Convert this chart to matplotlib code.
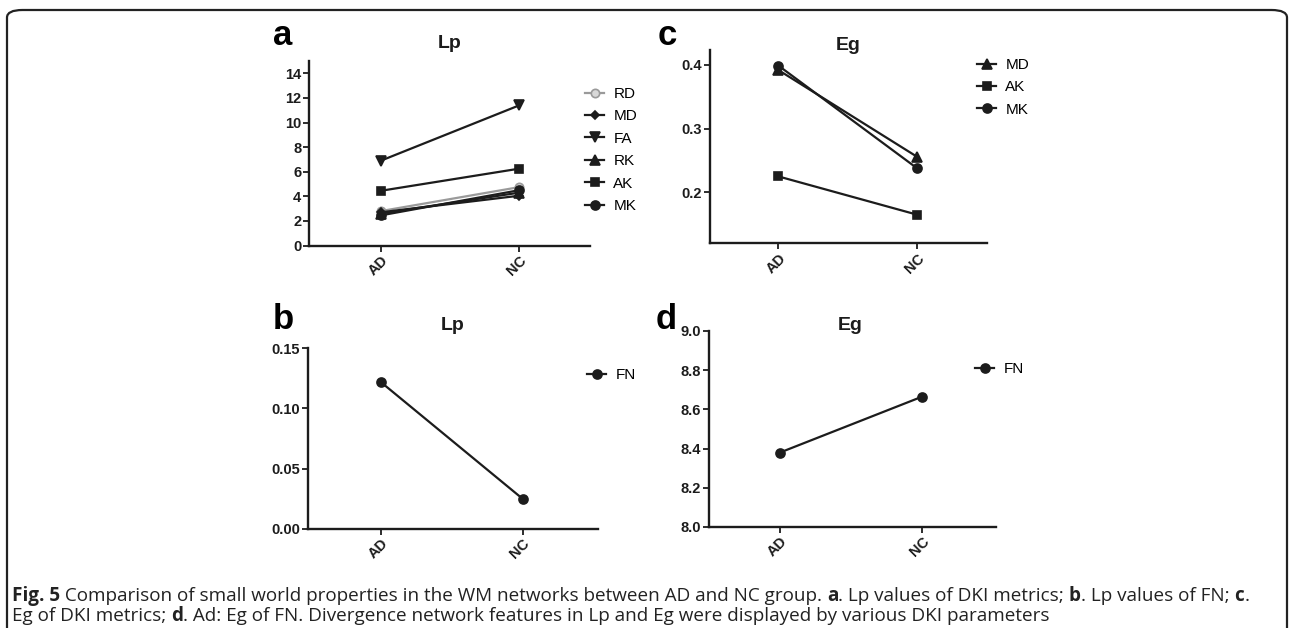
import matplotlib
matplotlib.use("Agg")
from matplotlib import pyplot as plt
from matplotlib.patches import FancyBboxPatch

plt.rcParams['font.family'] = ['Liberation Sans', 'DejaVu Sans']

W, H = 1292, 628
groups = ['AD', 'NC']

# panel a: Lp of DKI metrics
lp_dki_names = ['RD', 'MD', 'FA', 'RK', 'AK', 'MK']
lp_dki = {
    'RD': [2.8, 4.75],
    'MD': [2.7, 4.05],
    'FA': [6.9, 11.4],
    'RK': [2.6, 4.3],
    'AK': [4.45, 6.25],
    'MK': [2.45, 4.5],
}
# panel b: Lp of FN
lp_fn = [0.122, 0.025]
# panel c: Eg of DKI metrics
eg_dki_names = ['MD', 'AK', 'MK']
eg_dki = {
    'MD': [0.392, 0.256],
    'AK': [0.225, 0.165],
    'MK': [0.399, 0.238],
}
# panel d: Eg of FN
eg_fn = [8.38, 8.665]

ink = '#1c1c1c'

fig = plt.figure(figsize=(W / 100, H / 100), dpi=100)


def px_axes(x0, x1, ytop, ybot):
    return fig.add_axes([x0 / W, 1 - ybot / H, (x1 - x0) / W, (ybot - ytop) / H])


def style(ax, title, tx, ty, letter, lx, ly):
    for s in ['top', 'right']:
        ax.spines[s].set_visible(False)
    for s in ['left', 'bottom']:
        ax.spines[s].set_linewidth(1.7)
        ax.spines[s].set_color(ink)
    ax.tick_params(direction='out', length=4, width=1.3, color=ink, pad=1.5)
    ax.set_xticks([0, 1])
    ax.set_xticklabels(groups, rotation=45, ha='right', rotation_mode='anchor',
                       fontsize=10.5, fontweight='bold', color=ink)
    for lab in ax.get_yticklabels():
        lab.set_fontsize(10.5)
        lab.set_fontweight('bold')
        lab.set_color(ink)
    fig.text(tx / W, 1 - ty / H, title, fontsize=14, fontweight='bold',
             color=ink, ha='center', va='center')
    fig.text(lx / W, 1 - ly / H, letter, fontsize=25, fontweight='bold',
             ha='left', va='baseline', color='black')


def draw(ax, name, vals, marker, ms):
    gray = name == 'RD'
    col = '#9a9a9a' if gray else ink
    ax.plot([0, 1], vals, color=col, lw=1.6, marker=marker,
            ms=ms, mfc='#d8d8d8' if gray else col, mec=col,
            mew=1.2, label=name, clip_on=False)


def legend(ax, x, y, spacing):
    ax.legend(loc='upper left', bbox_to_anchor=(x / W, 1 - y / H),
              bbox_transform=fig.transFigure, frameon=False, fontsize=11,
              borderpad=0, borderaxespad=0, handlelength=1.25,
              handletextpad=0.6, labelspacing=spacing)


# a
a_markers = {'RD': ('o', 6), 'MD': ('D', 4.5), 'FA': ('v', 6.5),
             'RK': ('^', 6.5), 'AK': ('s', 6), 'MK': ('o', 6.5)}
ax = px_axes(309, 590, 61, 245.5)
for n in lp_dki_names:
    draw(ax, n, lp_dki[n], *a_markers[n])
ax.set_xlim(-0.52, 1.51)
ax.set_ylim(0, 15)
ax.set_yticks(range(0, 15, 2))
style(ax, 'Lp', 450, 43, 'a', 273, 45)
legend(ax, 585, 87, 0.55)

# c
c_markers = {'MD': ('^', 6.5), 'AK': ('s', 6), 'MK': ('o', 6.5)}
ax = px_axes(710, 987, 50, 243.3)
for n in eg_dki_names:
    draw(ax, n, eg_dki[n], *c_markers[n])
ax.set_xlim(-0.494, 1.506)
ax.set_ylim(0.12, 0.4235)
ax.set_yticks([0.2, 0.3, 0.4])
ax.set_yticklabels(['0.2', '0.3', '0.4'])
style(ax, 'Eg', 848, 46, 'c', 658, 45)
legend(ax, 977, 58, 0.55)

# b
ax = px_axes(308, 598, 348, 529)
draw(ax, 'FN', lp_fn, 'o', 6.5)
ax.set_xlim(-0.51, 1.53)
ax.set_ylim(0, 0.15)
ax.set_yticks([0, 0.05, 0.10, 0.15])
ax.set_yticklabels(['0.00', '0.05', '0.10', '0.15'])
style(ax, 'Lp', 453, 325, 'b', 273, 329)
legend(ax, 587, 368, 0.6)

# d
ax = px_axes(709, 996, 331, 527)
draw(ax, 'FN', eg_fn, 'o', 6.5)
ax.set_xlim(-0.5, 1.52)
ax.set_ylim(8.0, 9.0)
ax.set_yticks([8.0, 8.2, 8.4, 8.6, 8.8, 9.0])
ax.set_yticklabels(['8.0', '8.2', '8.4', '8.6', '8.8', '9.0'])
style(ax, 'Eg', 850, 325, 'd', 656, 329)
legend(ax, 975, 362, 0.6)

# frame around the figure
frame = FancyBboxPatch((7 / W, -0.2), 1280 / W, 1.2 - 10 / H,
                       boxstyle='round,pad=0,rounding_size=0.012',
                       transform=fig.transFigure, fill=False,
                       lw=1.6, ec='#222222', clip_on=False)
fig.patches.append(frame)

# caption
cap_lines = [
    [('Fig. 5', True), (' Comparison of small world properties in the WM networks between AD and NC group. ', False),
     ('a', True), ('. Lp values of DKI metrics; ', False), ('b', True), ('. Lp values of FN; ', False),
     ('c', True), ('.', False)],
    [('Eg of DKI metrics; ', False), ('d', True),
     ('. Ad: Eg of FN. Divergence network features in Lp and Eg were displayed by various DKI parameters', False)],
]
cap_family = ['Open Sans', 'DejaVu Sans']
renderer = fig.canvas.get_renderer()


def put_line(parts, y, size):
    x = 12
    arts = []
    for txt, bold in parts:
        t = fig.text(x / W, 1 - y / H, txt, fontsize=size, family=cap_family,
                     fontweight='bold' if bold else 'normal', ha='left',
                     va='baseline', color='#222222')
        bb = t.get_window_extent(renderer)
        x += bb.width
        arts.append(t)
    return arts, x


size = 10.5
arts, xend = put_line(cap_lines[0], 601, size)
for a in arts:
    a.remove()
size = size * (1257 - 12) / (xend - 12)
put_line(cap_lines[0], 601, size)
put_line(cap_lines[1], 621, size)

fig.savefig('out.png', dpi=100)
